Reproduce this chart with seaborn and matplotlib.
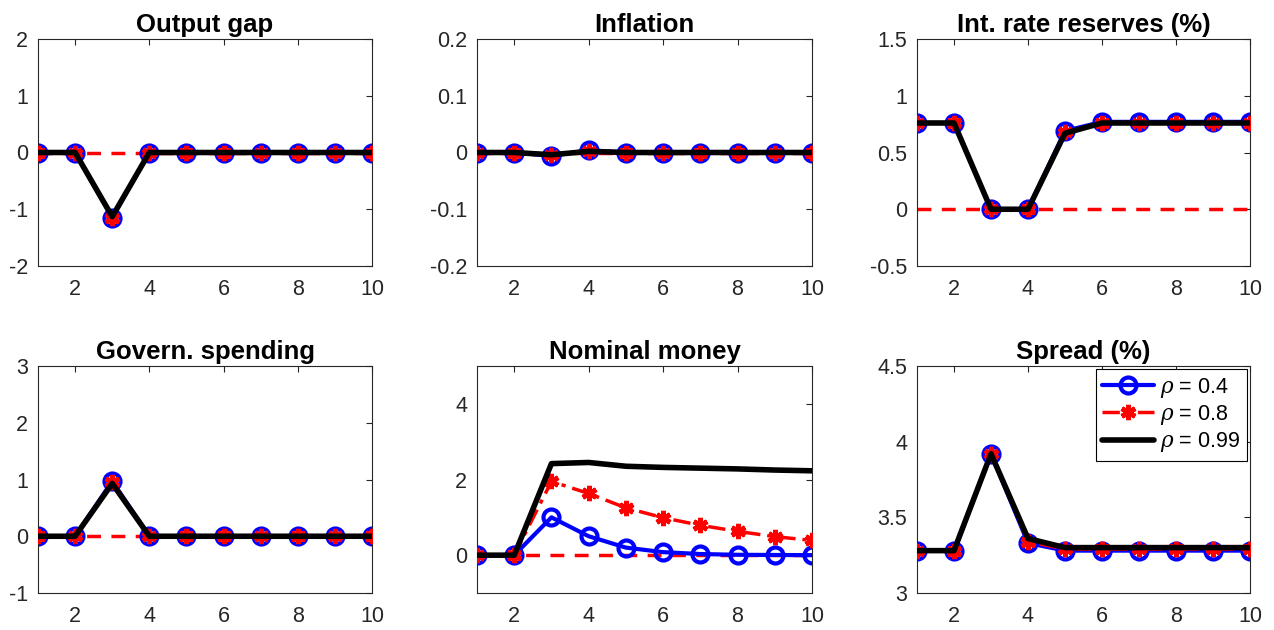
import numpy as np
import pandas as pd
import matplotlib
matplotlib.use("Agg")
import matplotlib.pyplot as plt
import seaborn as sns

sns.set_style("white")
plt.rcParams['font.family'] = ['Liberation Sans', 'DejaVu Sans']
plt.rcParams['mathtext.fontset'] = 'dejavuserif'

periods = list(range(1, 11))
labels = [r"$\rho$ = 0.4", r"$\rho$ = 0.8", r"$\rho$ = 0.99"]

titles = ["Output gap", "Inflation", "Int. rate reserves (%)",
          "Govern. spending", "Nominal money", "Spread (%)"]

output_gap_04 = [0, 0, -1.15, 0, 0, 0, 0, 0, 0, 0]
output_gap_08 = [0, 0, -1.15, 0, 0, 0, 0, 0, 0, 0]
output_gap_099 = [0, 0, -1.13, 0, 0, 0, 0, 0, 0, 0]

inflation_04 = [0, 0, -0.006, 0.004, 0, 0, 0, 0, 0, 0]
inflation_08 = [0, 0, -0.004, 0.003, 0, 0, 0, 0, 0, 0]
inflation_099 = [0, 0, -0.004, 0.002, 0, 0, 0, 0, 0, 0]

intrate_04 = [0.76, 0.76, 0, 0, 0.69, 0.77, 0.77, 0.77, 0.77, 0.77]
intrate_08 = [0.76, 0.76, 0, 0, 0.68, 0.76, 0.76, 0.76, 0.76, 0.76]
intrate_099 = [0.76, 0.76, 0, 0, 0.67, 0.76, 0.76, 0.76, 0.76, 0.76]

gov_04 = [0, 0, 0.97, 0, 0, 0, 0, 0, 0, 0]
gov_08 = [0, 0, 0.96, 0, 0, 0, 0, 0, 0, 0]
gov_099 = [0, 0, 0.93, 0, 0, 0, 0, 0, 0, 0]

money_04 = [0, 0, 1.0, 0.5, 0.2, 0.08, 0.03, 0.01, 0.005, 0.0]
money_08 = [0, 0, 1.95, 1.63, 1.25, 0.99, 0.79, 0.63, 0.49, 0.39]
money_099 = [0, 0, 2.42, 2.45, 2.35, 2.32, 2.30, 2.28, 2.25, 2.23]

spread_04 = [3.28, 3.28, 3.92, 3.33, 3.28, 3.28, 3.28, 3.28, 3.28, 3.28]
spread_08 = [3.28, 3.28, 3.92, 3.34, 3.29, 3.29, 3.29, 3.29, 3.29, 3.29]
spread_099 = [3.28, 3.28, 3.92, 3.36, 3.30, 3.30, 3.30, 3.30, 3.30, 3.30]

series = [
    (output_gap_04, output_gap_08, output_gap_099),
    (inflation_04, inflation_08, inflation_099),
    (intrate_04, intrate_08, intrate_099),
    (gov_04, gov_08, gov_099),
    (money_04, money_08, money_099),
    (spread_04, spread_08, spread_099),
]

ylims = [(-2, 2), (-0.2, 0.2), (-0.5, 1.5), (-1, 3), (-1, 5), (3, 4.5)]
yticks = [[-2, -1, 0, 1, 2], [-0.2, -0.1, 0, 0.1, 0.2], [-0.5, 0, 0.5, 1, 1.5],
          [-1, 0, 1, 2, 3], [0, 2, 4], [3, 3.5, 4, 4.5]]
yticklabels = [["-2", "-1", "0", "1", "2"], ["-0.2", "-0.1", "0", "0.1", "0.2"],
               ["-0.5", "0", "0.5", "1", "1.5"], ["-1", "0", "1", "2", "3"],
               ["0", "2", "4"], ["3", "3.5", "4", "4.5"]]
xticks = [2, 4, 6, 8, 10]

W, H = 1274, 630
fig = plt.figure(figsize=(W / 100, H / 100), dpi=100)
lefts = [38, 477, 917]
widths = [334, 335, 333]
tops = [39, 366]
ah = 227

asterisk = (6, 2, 0)
tick_color = "#262626"

for i in range(6):
    r, c = divmod(i, 3)
    ax = fig.add_axes([lefts[c] / W, 1 - (tops[r] + ah) / H, widths[c] / W, ah / H])
    s04, s08, s099 = series[i]
    # zero reference line
    sns.lineplot(x=periods, y=[0] * len(periods), ax=ax, color="red",
                 linestyle=(0, (4, 3)), linewidth=2.5, zorder=1)
    sns.lineplot(x=periods, y=s04, ax=ax, color="blue", linewidth=3,
                 marker="o", markersize=11.5, markerfacecolor="none",
                 markeredgecolor="blue", markeredgewidth=3,
                 label=labels[0], zorder=2)
    sns.lineplot(x=periods, y=s08, ax=ax, color="red", linewidth=2.5,
                 linestyle=(0, (5, 2, 1.2, 2)),
                 marker=asterisk, markersize=11, markeredgecolor="red",
                 markeredgewidth=3.5, label=labels[1], zorder=3)
    sns.lineplot(x=periods, y=s099, ax=ax, color="black", linewidth=4,
                 label=labels[2], zorder=4)

    ax.set_xlim(1, 10)
    ax.set_ylim(*ylims[i])
    ax.set_xticks(xticks)
    ax.set_xticklabels([str(t) for t in xticks])
    ax.set_yticks(yticks[i])
    ax.set_yticklabels(yticklabels[i])
    ax.tick_params(direction="in", length=4, width=0.8, colors=tick_color,
                   labelsize=15.5, top=True, right=True,
                   labelcolor=tick_color)
    ax.tick_params(axis="x", pad=9)
    ax.tick_params(axis="y", pad=7)
    for sp in ax.spines.values():
        sp.set_color(tick_color)
        sp.set_linewidth(0.8)
    ax.set_title(titles[i], fontsize=18.5, fontweight="bold", pad=5,
                 color="black")
    ax.set_xlabel("")
    ax.set_ylabel("")
    if i == 5:
        leg = ax.legend(loc="upper right", fontsize=15.5, frameon=True,
                        fancybox=False, edgecolor="black", framealpha=1,
                        handlelength=2.4, borderaxespad=0.15,
                        labelspacing=0.15, handletextpad=0.3,
                        borderpad=0.3)
        leg.get_frame().set_linewidth(0.8)
        for t in leg.get_texts():
            t.set_color("black")
    else:
        ax.get_legend().remove()

fig.savefig("out.png", dpi=100)
